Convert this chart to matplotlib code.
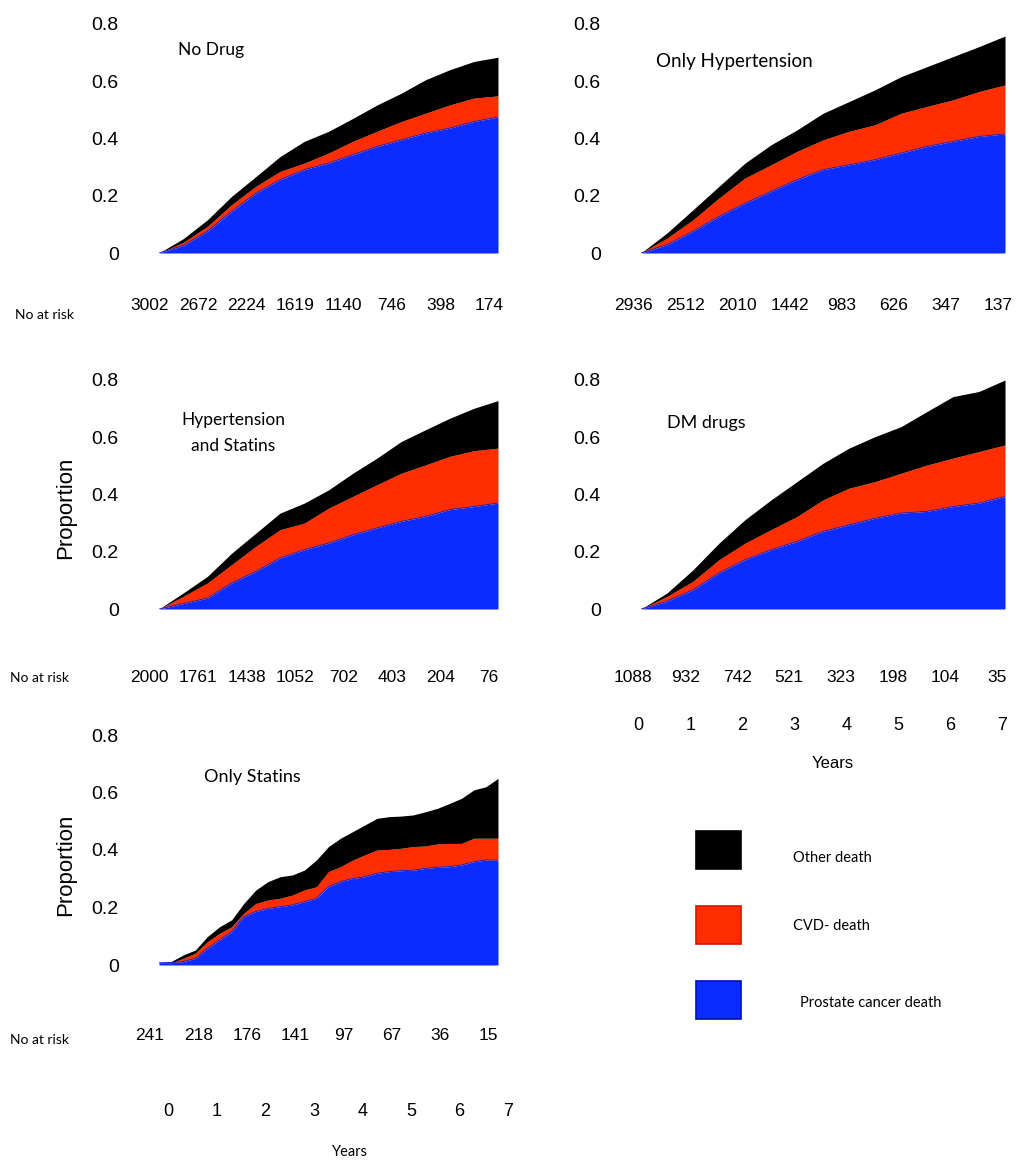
import numpy as np
import matplotlib
matplotlib.use("Agg")
import matplotlib.pyplot as plt
import matplotlib.transforms as mtransforms
from matplotlib.patches import Rectangle

# cumulative incidence (stacked tops: blue, blue+red, total)
years = [0, 0.5, 1, 1.5, 2, 2.5, 3, 3.5, 4, 4.5, 5, 5.5, 6, 6.5, 7]

nodrug_blue = [0, .026, .076, .145, .209, .256, .291, .314, .343, .372, .395, .419, .436, .459, .475]
nodrug_red = [0, .037, .093, .169, .233, .285, .314, .349, .390, .425, .459, .488, .517, .541, .549]
nodrug_black = [0, .050, .116, .198, .267, .337, .390, .425, .470, .517, .558, .605, .640, .669, .684]

hyp_blue = [0, .029, .076, .128, .174, .215, .256, .291, .308, .326, .349, .372, .390, .407, .416]
hyp_red = [0, .052, .116, .192, .262, .308, .355, .395, .425, .448, .488, .512, .535, .564, .587]
hyp_black = [0, .070, .151, .233, .314, .378, .430, .488, .529, .570, .616, .651, .686, .721, .758]

hypstat_blue = [0, .019, .038, .091, .131, .178, .207, .230, .259, .283, .306, .323, .347, .358, .370]
hypstat_red = [0, .044, .091, .155, .219, .277, .300, .352, .393, .434, .474, .503, .533, .553, .562]
hypstat_black = [0, .056, .114, .195, .265, .335, .370, .416, .474, .527, .585, .626, .666, .701, .728]

dm_blue = [0, .027, .067, .126, .172, .207, .236, .271, .294, .317, .335, .341, .358, .370, .393]
dm_red = [0, .044, .097, .172, .230, .277, .323, .381, .422, .445, .474, .503, .527, .550, .573]
dm_black = [0, .056, .137, .230, .312, .381, .445, .509, .562, .602, .637, .690, .742, .760, .800]

# Only statins is a small group: read at quarter years
years_q = [0, .25, .5, .75, 1, 1.25, 1.5, 1.75, 2, 2.25, 2.5, 2.75, 3, 3.25, 3.5,
           3.75, 4, 4.25, 4.5, 4.75, 5, 5.25, 5.5, 5.75, 6, 6.25, 6.5, 6.75, 7]
stat_blue = [.008, .008, .012, .023, .058, .087, .116, .168, .186, .197, .203, .209, .220, .232, .272,
             .290, .301, .307, .319, .325, .328, .330, .336, .340, .342, .348, .359, .365, .365]
stat_red = [.008, .008, .023, .041, .081, .110, .133, .180, .214, .226, .232, .243, .261, .272, .325,
            .342, .365, .383, .400, .402, .406, .412, .414, .421, .423, .423, .441, .441, .441]
stat_black = [.008, .012, .035, .052, .099, .133, .157, .214, .261, .290, .307, .313, .330, .365, .412,
              .441, .464, .487, .510, .516, .518, .522, .533, .545, .562, .580, .609, .620, .649]

# numbers at risk at years 0..7
risk_nodrug = [3002, 2672, 2224, 1619, 1140, 746, 398, 174]
risk_hyp = [2936, 2512, 2010, 1442, 983, 626, 347, 137]
risk_hypstat = [2000, 1761, 1438, 1052, 702, 403, 204, 76]
risk_dm = [1088, 932, 742, 521, 323, 198, 104, 35]
risk_stat = [241, 218, 176, 141, 97, 67, 36, 15]

year_ticks = [0, 1, 2, 3, 4, 5, 6, 7]
legend_labels = ["Other death", "CVD- death", "Prostate cancer death"]

BLUE = "#0b2bff"
RED = "#ff2d00"
BLACK = "#000000"

NARROW = ["Liberation Sans", "DejaVu Sans"]
SANS = ["Liberation Sans", "DejaVu Sans"]
HUMAN = ["Lato", "DejaVu Sans"]

W, H = 1024, 1165
fig = plt.figure(figsize=(W / 100, H / 100), dpi=100)


def fy(py):
    # pixel row (from top) -> figure fraction
    return 1 - py / H


def px_axes(x0, x1, ytop, ybot):
    return fig.add_axes([x0 / W, fy(ybot), (x1 - x0) / W, (ybot - ytop) / H])


def draw_panel(ax, t, blue, red, black):
    ax.fill_between(t, 0, blue, color=BLUE, lw=0)
    ax.fill_between(t, blue, red, color=RED, lw=0)
    ax.fill_between(t, red, black, color=BLACK, lw=0)
    ax.plot(t, blue, color="#0a1fd0", lw=0.6)
    ax.set_xlim(0, 7)
    ax.set_ylim(0, 0.8)
    ax.set_xticks([])
    ax.set_yticks([0, 0.2, 0.4, 0.6, 0.8])
    ax.set_yticklabels(["0", "0.2", "0.4", "0.6", "0.8"], family=NARROW, fontsize=14)
    ax.tick_params(axis="y", length=0, pad=29)
    for s in ax.spines.values():
        s.set_visible(False)
    ax.patch.set_alpha(0)


def row_text(ax, values, py, dx, size=12.5):
    tr = mtransforms.blended_transform_factory(ax.transData, fig.transFigure)
    for k, v in enumerate(values):
        ax.text(k + dx, fy(py), str(v), transform=tr, ha="center", va="center",
                family=NARROW, fontsize=size)


# panel layout in pixels: (x left, x right, y of 0.8, y of 0)
ax1 = px_axes(159, 498, 24, 253)
draw_panel(ax1, years, nodrug_blue, nodrug_red, nodrug_black)
fig.text(178 / W, fy(50), "No Drug", family=HUMAN, fontsize=12.5, va="center")
row_text(ax1, risk_nodrug, 305, -0.19)
fig.text(15 / W, fy(315), "No at risk", family=HUMAN, fontsize=10, va="center")

ax2 = px_axes(641, 1005, 24, 253)
draw_panel(ax2, years, hyp_blue, hyp_red, hyp_black)
fig.text(656 / W, fy(62), "Only Hypertension", family=HUMAN, fontsize=13.5, va="center")
row_text(ax2, risk_hyp, 305, -0.14)

ax3 = px_axes(159, 498, 380, 609)
draw_panel(ax3, years, hypstat_blue, hypstat_red, hypstat_black)
fig.text(233 / W, fy(433), "Hypertension\nand Statins", family=HUMAN, fontsize=12.5,
         ha="center", va="center", linespacing=1.8)
row_text(ax3, risk_hypstat, 678, -0.19)
fig.text(10 / W, fy(678), "No at risk", family=HUMAN, fontsize=10, va="center")
fig.text(66 / W, fy(508), "Proportion", family=SANS, fontsize=16, rotation=90,
         ha="center", va="center")

ax4 = px_axes(641, 1005, 380, 609)
draw_panel(ax4, years, dm_blue, dm_red, dm_black)
fig.text(667 / W, fy(423), "DM drugs", family=HUMAN, fontsize=13, va="center")
row_text(ax4, risk_dm, 678, -0.15)
row_text(ax4, year_ticks, 725, -0.05, size=13)
fig.text(833 / W, fy(763), "Years", family=NARROW, fontsize=12, ha="center", va="center")

ax5 = px_axes(159, 498, 735, 965)
draw_panel(ax5, years_q, stat_blue, stat_red, stat_black)
fig.text(204 / W, fy(777), "Only Statins", family=HUMAN, fontsize=13, va="center")
row_text(ax5, risk_stat, 1035, -0.19)
row_text(ax5, year_ticks, 1112, 0.2, size=13)
fig.text(10 / W, fy(1040), "No at risk", family=HUMAN, fontsize=10, va="center")
fig.text(66 / W, fy(865), "Proportion", family=SANS, fontsize=16, rotation=90,
         ha="center", va="center")
fig.text(350 / W, fy(1152), "Years", family=HUMAN, fontsize=10.5, ha="center", va="center")

# legend drawn as plain boxes, like the original
box_colors = [BLACK, RED, BLUE]
box_edges = [BLACK, "#cc1a00", "#0010b0"]
box_tops = [831, 906, 981]
text_rows = [858, 926, 1003]
text_x = [793, 793, 800]
for lab, c, ec, top, ty, tx in zip(legend_labels, box_colors, box_edges, box_tops, text_rows, text_x):
    fig.patches.append(Rectangle((696 / W, fy(top + 38)), 45 / W, 38 / H,
                                 transform=fig.transFigure, facecolor=c,
                                 edgecolor=ec, lw=1.2))
    fig.text(tx / W, fy(ty), lab, family=HUMAN, fontsize=10.5, va="center")

fig.savefig("out.png", dpi=100)
